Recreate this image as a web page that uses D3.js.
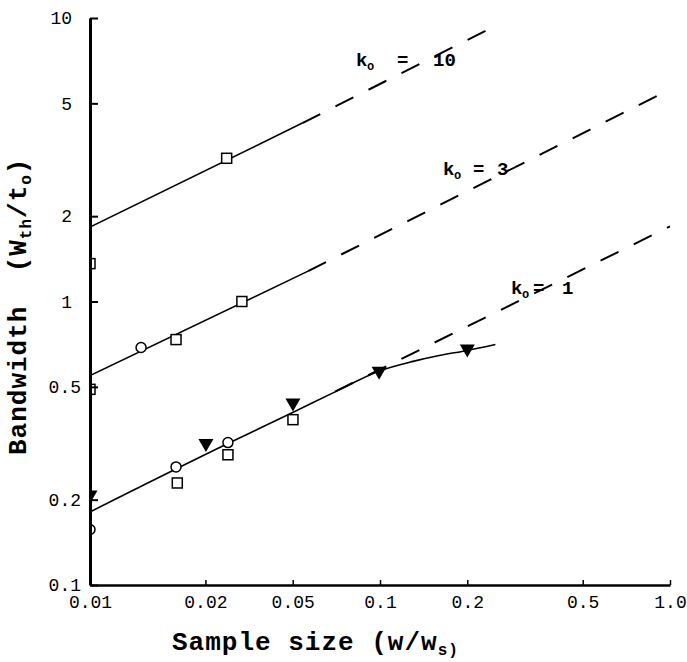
<!DOCTYPE html>
<html>
<head>
<meta charset="utf-8">
<script src="https://cdn.jsdelivr.net/npm/d3@7"></script>
<style>
  body { margin: 0; background: #fff; }
  text { font-family: "Liberation Mono", "DejaVu Sans Mono", monospace; white-space: pre; }
</style>
</head>
<body>
<div id="chart"></div>
<script>
// ---- data ----
var xTicks = [0.01, 0.025, 0.05, 0.1, 0.2, 0.5, 1.0];
var xTickLabels = ["0.01", "0.02", "0.05", "0.1", "0.2", "0.5", "1.0"];
var yTicks = [0.1, 0.2, 0.5, 1, 2, 5, 10];
var yTickLabels = ["0.1", "0.2", "0.5", "1", "2", "5", "10"];

var squares = [[0.01, 1.36], [0.0296, 3.2], [0.0198, 0.734], [0.0334, 1.0], [0.01, 0.49],
               [0.02, 0.229], [0.0299, 0.288], [0.0501, 0.383]];
var circles = [[0.015, 0.688], [0.0198, 0.261], [0.0299, 0.318], [0.01, 0.157]];
var triangles = [[0.0251, 0.312], [0.0501, 0.433], [0.0993, 0.561], [0.2, 0.671], [0.01, 0.205]];

// fitted lines (solid = fit, dashed = extrapolation)
var solid10 = [[0.01, 1.83], [0.054, 4.26]];
var dashed10 = [[0.054, 4.26], [0.234, 9.07]];
var solid3 = [[0.01, 0.548], [0.0565, 1.28]];
var dashed3 = [[0.0565, 1.28], [0.99, 5.57]];
var solid1 = [[0.01, 0.181], [0.03, 0.316], [0.05, 0.406], [0.07, 0.48], [0.1, 0.57],
              [0.13, 0.615], [0.16, 0.645], [0.2, 0.672], [0.25, 0.705]];
var dashed1 = [[0.07, 0.481], [1.0, 1.84]];

var kValues = ["10", "3", "1"];

// ---- layout ----
var W = 687, H = 662;
var svg = d3.select("#chart").append("svg")
  .attr("width", W).attr("height", H)
  .style("background", "#fff");

var x = d3.scaleLog().domain([0.01, 1]).range([90, 670]);
var y = d3.scaleLog().domain([0.1, 10]).range([585, 18]);

// clip so markers sitting on the axis are cut in half
svg.append("clipPath").attr("id", "plotclip")
  .append("rect").attr("x", 90).attr("y", 0).attr("width", 600).attr("height", 590);

var line = d3.line().x(function(d){ return x(d[0]); }).y(function(d){ return y(d[1]); });
var curve = d3.line().curve(d3.curveMonotoneX)
  .x(function(d){ return x(d[0]); }).y(function(d){ return y(d[1]); });

var g = svg.append("g").attr("clip-path", "url(#plotclip)");

[solid10, solid3].forEach(function(s){
  g.append("path").attr("d", line(s)).attr("fill", "none")
    .attr("stroke", "#000").attr("stroke-width", 1.6);
});
g.append("path").attr("d", curve(solid1)).attr("fill", "none")
  .attr("stroke", "#000").attr("stroke-width", 1.6);

[dashed10, dashed3, dashed1].forEach(function(s){
  g.append("path").attr("d", line(s)).attr("fill", "none")
    .attr("stroke", "#000").attr("stroke-width", 2)
    .attr("stroke-dasharray", "20,17");
});

// markers
g.selectAll(".sq").data(squares).enter().append("rect")
  .attr("x", function(d){ return x(d[0]) - 5; })
  .attr("y", function(d){ return y(d[1]) - 5; })
  .attr("width", 10).attr("height", 10)
  .attr("fill", "#fff").attr("stroke", "#000").attr("stroke-width", 1.5);

g.selectAll(".ci").data(circles).enter().append("circle")
  .attr("cx", function(d){ return x(d[0]); })
  .attr("cy", function(d){ return y(d[1]); })
  .attr("r", 5)
  .attr("fill", "#fff").attr("stroke", "#000").attr("stroke-width", 1.5);

g.selectAll(".tr").data(triangles).enter().append("path")
  .attr("d", "M-7.5,-6L7.5,-6L0,7Z")
  .attr("transform", function(d){ return "translate(" + x(d[0]) + "," + y(d[1]) + ")"; })
  .attr("fill", "#000");

// axes
var xAxis = svg.append("g").attr("transform", "translate(0,585)")
  .call(d3.axisBottom(x).tickValues(xTicks)
    .tickFormat(function(d, i){ return xTickLabels[i]; })
    .tickSizeInner(-5).tickSizeOuter(0).tickPadding(10));
xAxis.select(".domain").attr("stroke-width", 2.5);
xAxis.selectAll(".tick line").attr("stroke-width", 1.5);
xAxis.selectAll("text").attr("font-size", 18).attr("fill", "#000")
  .style("font-family", "'Liberation Mono', monospace");

var yAxis = svg.append("g").attr("transform", "translate(90,0)")
  .call(d3.axisLeft(y).tickValues(yTicks)
    .tickFormat(function(d, i){ return yTickLabels[i]; })
    .tickSizeInner(-8).tickSizeOuter(0).tickPadding(9));
yAxis.select(".domain").attr("stroke-width", 3);
yAxis.selectAll(".tick line").attr("stroke-width", 2);
yAxis.selectAll("text").attr("font-size", 18).attr("fill", "#000")
  .style("font-family", "'Liberation Mono', monospace")
  .attr("dx", function(d, i){ return yTickLabels[i].indexOf(".") < 0 ? -9 : 0; });

// k labels
var kPos = [[356, 66, 41, 77], [443, 175, 30, 54], [511, 294, 22, 51]];
kValues.forEach(function(v, i){
  var p = kPos[i];
  var t = svg.append("g").attr("font-weight", "bold").attr("fill", "#000");
  t.append("text").attr("x", p[0]).attr("y", p[1]).attr("font-size", 19).text("k");
  t.append("text").attr("x", p[0] + 11).attr("y", p[1] + 4).attr("font-size", 12).text("o");
  t.append("text").attr("x", p[0] + p[2]).attr("y", p[1]).attr("font-size", 19).text("=");
  t.append("text").attr("x", p[0] + p[3]).attr("y", p[1]).attr("font-size", 19).text(v);
});

// axis titles
var xt = svg.append("text").attr("x", 172).attr("y", 650)
  .attr("font-size", 26).attr("font-weight", "bold").attr("letter-spacing", 1);
xt.append("tspan").text("Sample size (w/w");
xt.append("tspan").attr("font-size", 16).attr("dy", 5).text("s)");

var yt = svg.append("text").attr("transform", "translate(26,455) rotate(-90)")
  .attr("font-size", 26).attr("font-weight", "bold").attr("letter-spacing", 1);
yt.append("tspan").text("Bandwidth  (W");
yt.append("tspan").attr("font-size", 16).attr("dy", 5).text("th");
yt.append("tspan").attr("dy", -5).text("/t");
yt.append("tspan").attr("font-size", 16).attr("dy", 5).text("o");
yt.append("tspan").attr("dy", -5).text(")");
</script>
</body>
</html>
